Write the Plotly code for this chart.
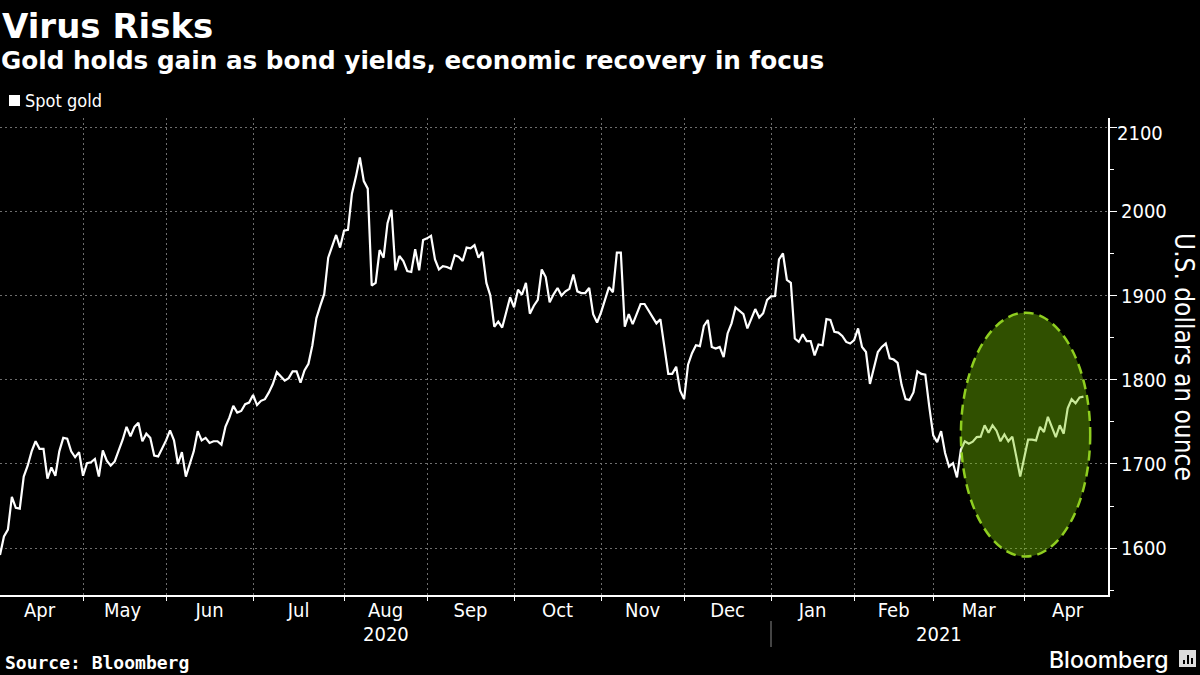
import plotly.graph_objects as go

# spot gold, one value per trading day
spot_gold = [
    1592, 1614, 1622, 1661, 1648, 1647, 1685, 1698, 1715, 1727, 1718, 1718, 1682.5, 1696, 1686, 1715, 1731, 1730, 1715, 1708, 1714,
    1686, 1701, 1702, 1706, 1685, 1716, 1704, 1698, 1703, 1716, 1728.5, 1744, 1733, 1744, 1749, 1727, 1736, 1731, 1710, 1709, 1718,
    1728, 1740, 1728, 1700, 1714, 1685, 1699, 1715, 1739, 1728, 1731, 1725, 1727, 1727, 1723, 1744, 1755, 1769, 1761, 1763, 1771, 1773,
    1782, 1770, 1775, 1777, 1785, 1795, 1809, 1804.5, 1799, 1802, 1810, 1810, 1796.5, 1811, 1819, 1841, 1873, 1888, 1902, 1945, 1958, 1972, 1957,
    1977, 1978, 2021, 2041, 2064, 2036, 2027, 1912, 1915, 1954, 1945, 1986, 2002, 1930, 1947, 1941, 1929, 1928, 1955, 1930,
    1966, 1968, 1971, 1943, 1931, 1935, 1934, 1932, 1948, 1946, 1941, 1957, 1956, 1960, 1945, 1952, 1915, 1900, 1863, 1869, 1862, 1880, 1898,
    1886, 1907, 1901, 1915, 1878.5, 1888, 1895, 1931, 1922, 1892, 1901.5, 1909, 1900, 1905, 1908, 1925, 1905, 1903, 1903, 1909, 1878, 1868,
    1880, 1895, 1910, 1904, 1951, 1951, 1863, 1878, 1866, 1878, 1890, 1890, 1882.5, 1874, 1867, 1872, 1839, 1807, 1807, 1815.5, 1787,
    1777, 1818, 1831.5, 1841, 1840, 1864, 1871, 1839, 1837, 1839, 1827, 1855, 1867, 1886, 1882, 1878, 1861, 1872.5, 1884, 1874, 1879, 1895,
    1899, 1899.5, 1943, 1950, 1918.5, 1915, 1849, 1845, 1854, 1846, 1846, 1829, 1842, 1841, 1872, 1871, 1857, 1856, 1852, 1845, 1843,
    1847, 1861, 1839, 1833, 1795, 1814, 1833, 1839, 1843, 1825.5, 1824, 1820, 1794, 1777, 1776, 1785, 1810, 1807, 1806, 1768,
    1734, 1726, 1739, 1713, 1697, 1701, 1684, 1717, 1727, 1724, 1726.5, 1732, 1732.5, 1746, 1737, 1746, 1739.5, 1727, 1735, 1727, 1732.5, 1709, 1685,
    1707, 1729, 1729, 1728, 1744, 1738, 1756, 1744, 1732, 1746, 1736, 1766, 1777, 1772, 1779, 1780,
]
trading_days = list(range(len(spot_gold)))

# trading day on which each month starts
month_starts = [21, 42, 64, 87, 108, 130, 152, 173, 195, 216, 236, 259]
month_mids = [10, 31, 53, 75.5, 97.5, 119, 141, 162.5, 184, 205.5, 226, 247.5, 270]
month_names = ["Apr", "May", "Jun", "Jul", "Aug", "Sep", "Oct", "Nov", "Dec", "Jan", "Feb", "Mar", "Apr"]

y_ticks = [1600, 1700, 1800, 1900, 2000, 2100]
y_labels = ["1600", "1700", "1800", "1900", "2000", ""]
y_minor = [1550, 1650, 1750, 1850, 1950, 2050]

PLOT_W = 1108
PLOT_H = 477
PLOT_TOP = 118
COND = "DejaVu Sans Condensed, DejaVu Sans"


def px(x):
    return x / PLOT_W


def py(y):
    return (PLOT_TOP + PLOT_H - y) / PLOT_H


def label(text, x, y, size, family=COND, weight=400, xanchor="left", angle=0):
    return dict(text=text, x=px(x), y=py(y), xref="paper", yref="paper", xanchor=xanchor, yanchor="middle",
                showarrow=False, textangle=angle, font=dict(family=family, size=size, color="white", weight=weight))


fig = go.Figure()
fig.add_trace(go.Scatter(x=trading_days, y=spot_gold, mode="lines", name="Spot gold",
                         line=dict(color="white", width=2.2), showlegend=False))
# triangles on the value axis
fig.add_trace(go.Scatter(x=[281.1] * len(y_ticks), y=y_ticks, mode="markers", cliponaxis=False, showlegend=False,
                         hoverinfo="skip", marker=dict(symbol="triangle-right", size=8, color="white")))

grid = dict(gridcolor="#6e6e6e", griddash="2px,3px", gridwidth=1)

fig.update_layout(
    width=1200, height=675,
    paper_bgcolor="black", plot_bgcolor="black",
    margin=dict(l=0, r=92, t=PLOT_TOP, b=80),
    showlegend=False,
    xaxis=dict(range=[0, 280.2], tickmode="array", tickvals=month_mids, ticktext=month_names,
               showgrid=False, zeroline=False, showline=True, linecolor="white", linewidth=2,
               ticks="", ticklen=0, ticklabelstandoff=-4,
               tickfont=dict(family=COND, size=20, color="white"),
               minor=dict(tickmode="array", tickvals=month_starts, ticks="outside", ticklen=4, tickcolor="white",
                          tickwidth=1, showgrid=True, **grid)),
    yaxis=dict(range=[1544.4, 2110.9], side="right", tickmode="array", tickvals=y_ticks, ticktext=y_labels,
               showgrid=True, zeroline=False, showline=True, linecolor="white", linewidth=2,
               ticks="outside", ticklen=7, tickcolor="white", tickwidth=1,
               tickfont=dict(family=COND, size=20, color="white"),
               minor=dict(tickmode="array", tickvals=y_minor, ticks="outside", ticklen=4, tickcolor="white", tickwidth=1,
                          showgrid=False),
               **grid),
)

fig.update_layout(annotations=[
    label("Virus Risks", 0, 26, 34, family="DejaVu Sans", weight=700),
    label("Gold holds gain as bond yields, economic recovery in focus", -1, 60, 24.7, family="DejaVu Sans", weight=700),
    label("Spot gold", 23, 101, 18),
    label("2100", 1115, 133, 20),
    label("U.S. dollars an ounce", 1184, 357, 26, xanchor="center", angle=90),
    label("2020", 386, 634, 20, xanchor="center"),
    label("2021", 939, 634, 20, xanchor="center"),
    label("Source: Bloomberg", 3, 662, 18, family="DejaVu Sans Mono", weight=700),
    label("Bloomberg", 1047, 660, 23, family="Inter", weight=500),
])

shapes = [
    # the highlighted part of the line
    dict(type="circle", xref="x", yref="y", x0=243, x1=275.7, y0=1590, y1=1879.7, layer="above",
         fillcolor="rgba(120,200,0,0.4)", line=dict(color="#8fce20", width=2.5, dash="10px,6px")),
    # legend swatch
    dict(type="rect", xref="paper", yref="paper", x0=px(9), x1=px(20), y0=py(106), y1=py(95),
         fillcolor="white", line_width=0),
    # divider between the years
    dict(type="line", xref="paper", yref="paper", x0=px(771), x1=px(771), y0=py(621), y1=py(647),
         line=dict(color="#888888", width=1)),
    # Bloomberg badge
    dict(type="rect", xref="paper", yref="paper", x0=px(1179), x1=px(1196), y0=py(667), y1=py(650),
         fillcolor="#dddddd", line_width=0),
]
for bar_x, bar_top in [(1183, 660), (1187, 655), (1191, 658)]:
    shapes.append(dict(type="rect", xref="paper", yref="paper", x0=px(bar_x), x1=px(bar_x + 2), y0=py(664), y1=py(bar_top),
                       fillcolor="black", line_width=0))
fig.update_layout(shapes=shapes)

# page margin off so the figure fills the window exactly
fig.write_html("out.html", config={"displayModeBar": False}, post_script="document.body.style.margin='0';")
